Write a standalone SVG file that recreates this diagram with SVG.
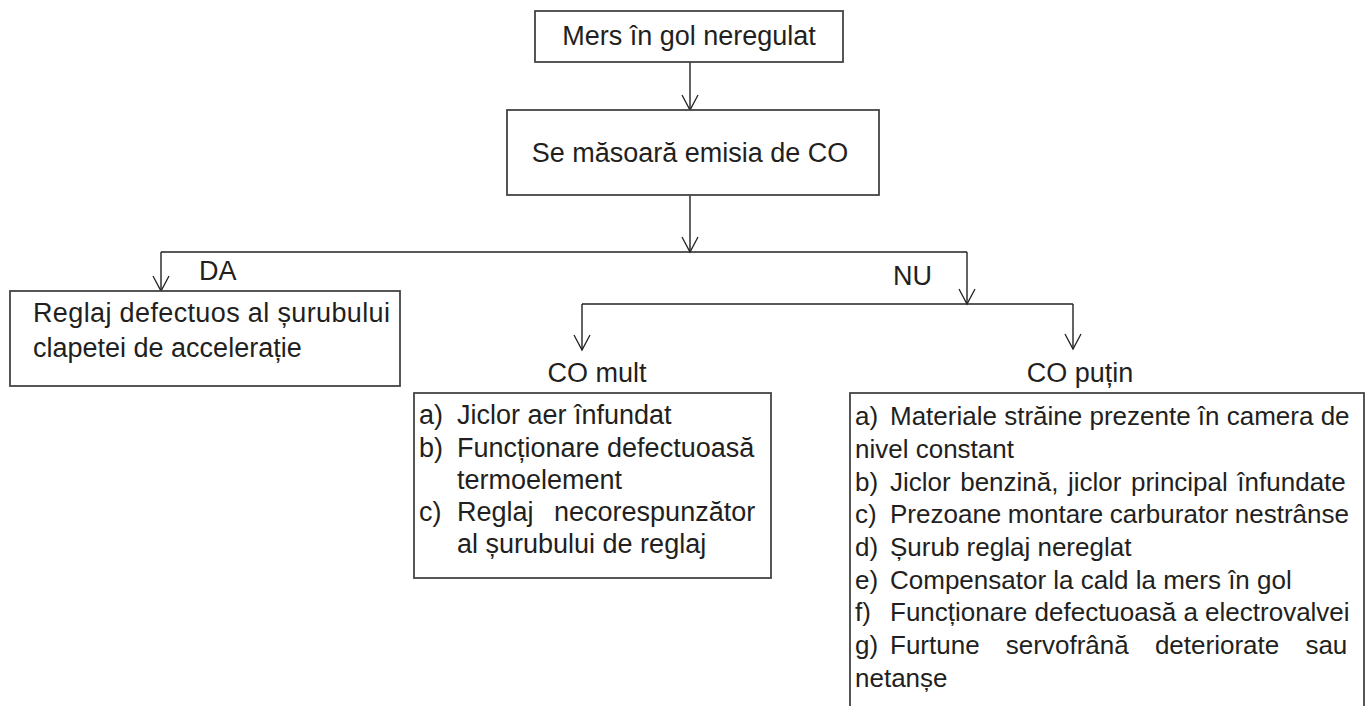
<svg xmlns="http://www.w3.org/2000/svg" width="1370" height="706" viewBox="0 0 1370 706">
<defs>
<marker id="arr" markerUnits="userSpaceOnUse" markerWidth="20" markerHeight="20" refX="16" refY="10" orient="auto" viewBox="0 0 20 20">
<path d="M1,2 L16,10 L1,18" fill="none" stroke="#222" stroke-width="1.3"/>
</marker>
<style>
text{font-family:"Liberation Sans",Arial,Helvetica,sans-serif;fill:#231f20;font-size:27px}
.box{fill:#fff;stroke:#444;stroke-width:1.8}
.ln{fill:none;stroke:#222;stroke-width:1.4}
.s26{font-size:26px}
</style>
</defs>
<rect width="1370" height="706" fill="#fff"/>
<g id="connectors">
<path class="ln" d="M690,62 V110" marker-end="url(#arr)"/>
<path class="ln" d="M690,195 V252" marker-end="url(#arr)"/>
<path class="ln" d="M161,252 H967"/>
<path class="ln" d="M161,252 V291" marker-end="url(#arr)"/>
<path class="ln" d="M967,252 V304" marker-end="url(#arr)"/>
<path class="ln" d="M582,304 H1073"/>
<path class="ln" d="M582,304 V350" marker-end="url(#arr)"/>
<path class="ln" d="M1073,304 V349" marker-end="url(#arr)"/>
<text x="199" y="280">DA</text>
<text x="893" y="285">NU</text>
</g>
<g id="n1">
<rect class="box" x="535" y="11" width="308" height="51"/>
<text x="689" y="45" text-anchor="middle">Mers în gol neregulat</text>
</g>
<g id="n2">
<rect class="box" x="507" y="110" width="372" height="85"/>
<text x="690" y="162" text-anchor="middle">Se măsoară emisia de CO</text>
</g>
<g id="n3">
<rect class="box" x="10" y="291" width="390" height="95"/>
<text x="33" y="322" textLength="357" lengthAdjust="spacing">Reglaj defectuos al șurubului</text>
<text x="33" y="357">clapetei de accelerație</text>
</g>
<g id="n4">
<text x="597" y="382" text-anchor="middle">CO mult</text>
<rect class="box" x="414" y="393" width="357" height="185"/>
<text x="419" y="424">a)</text><text x="457" y="424">Jiclor aer înfundat</text>
<text x="419" y="457">b)</text><text x="457" y="457">Funcționare defectuoasă</text>
<text x="457" y="489">termoelement</text>
<text x="419" y="521">c)</text><text x="457" y="521" word-spacing="13">Reglaj necorespunzător</text>
<text x="457" y="553">al șurubului de reglaj</text>
</g>
<g id="n5">
<text x="1080" y="382" text-anchor="middle">CO puțin</text>
<rect class="box" x="850" y="393" width="514" height="330"/>
<text class="s26" x="855" y="425">a)</text><text class="s26" x="890" y="425">Materiale străine prezente în camera de</text>
<text class="s26" x="855" y="458">nivel constant</text>
<text class="s26" x="855" y="491">b)</text><text class="s26" x="890" y="491" word-spacing="2.3">Jiclor benzină, jiclor principal înfundate</text>
<text class="s26" x="855" y="523">c)</text><text class="s26" x="890" y="523" word-spacing="-0.7">Prezoane montare carburator nestrânse</text>
<text class="s26" x="855" y="556">d)</text><text class="s26" x="890" y="556">Șurub reglaj nereglat</text>
<text class="s26" x="855" y="589">e)</text><text class="s26" x="890" y="589">Compensator la cald la mers în gol</text>
<text class="s26" x="855" y="621">f)</text><text class="s26" x="890" y="621">Funcționare defectuoasă a electrovalvei</text>
<text class="s26" x="855" y="654">g)</text><text class="s26" x="890" y="654" word-spacing="19">Furtune servofrână deteriorate sau</text>
<text class="s26" x="855" y="687">netanșe</text>
</g>
</svg>
